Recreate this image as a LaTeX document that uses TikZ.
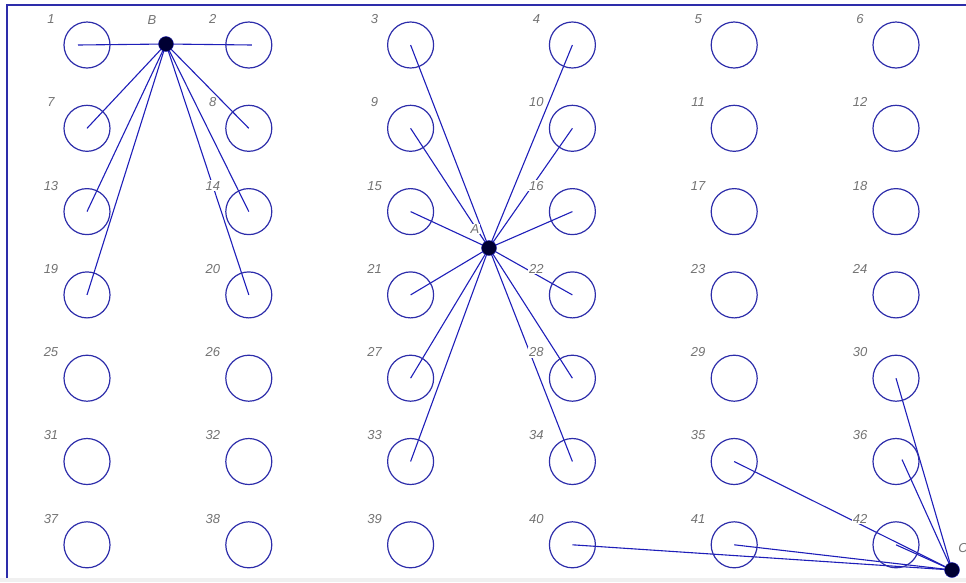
\documentclass[tikz,border=0pt]{standalone}
\usepackage{fontspec}
\setsansfont{Liberation Sans}
\usetikzlibrary{backgrounds}
\definecolor{holeblue}{RGB}{45,45,170}
\definecolor{wireblue}{RGB}{30,30,185}
\definecolor{numgray}{RGB}{115,115,115}
\begin{document}
\begin{tikzpicture}[x=1pt, y=-1pt,
  hole/.style={draw=holeblue, line width=1.2pt, circle, minimum size=46pt, inner sep=0pt},
  num/.style={text=numgray, font=\fontsize{13}{13}\selectfont\sffamily\itshape, fill=white, inner sep=0.8pt},
  hub/.style={circle, fill=black!80!blue, draw=wireblue, minimum size=15pt, inner sep=0pt},
  wire/.style={wireblue, line width=1.1pt},
]
  \useasboundingbox (0,0) rectangle (966,582);
  \fill[black!6] (0,578) rectangle (966,582);
  \draw[holeblue, line width=1.5pt] (7,578) -- (7,5) -- (966,5);

  % holes 1..42, six per row
  \foreach \n in {1,...,42} {
    \pgfmathtruncatemacro{\col}{mod(\n-1,6)}
    \pgfmathtruncatemacro{\row}{(\n-1)/6}
    \node[hole] (c\n) at ({87+161.8*\col},{45+83.3*\row}) {};
    \node[num] (n\n) at ({51+161.8*\col},{19+83.3*\row}) {\n};
  }

  % collection points
  \node[hub] (B) at (166,44) {};
  \node[hub] (A) at (489,248) {};
  \node[hub] (C) at (952,570) {};
  \node[num] (lB) at (152,20) {B};
  \node[num] (lA) at (475,229) {A};
  \node[num] (lC) at (963,548) {C};

  \begin{scope}[on background layer]
    \draw[wire] (B.center) -- ([xshift=-9pt]c1.center);
    \draw[wire] (B.center) -- ([xshift=3pt]c2.center);
    \foreach \k in {7,8,13,14,19,20}
      \draw[wire] (B.center) -- (c\k.center);
    \foreach \k in {3,4,9,10,15,16,21,22,27,28,33,34}
      \draw[wire] (A.center) -- (c\k.center);
    \foreach \k in {30,35,40,41,42}
      \draw[wire] (C.center) -- (c\k.center);
    \draw[wire] (C.center) -- ([xshift=6pt,yshift=2pt]c36.center);
  \end{scope}
\end{tikzpicture}
\end{document}
